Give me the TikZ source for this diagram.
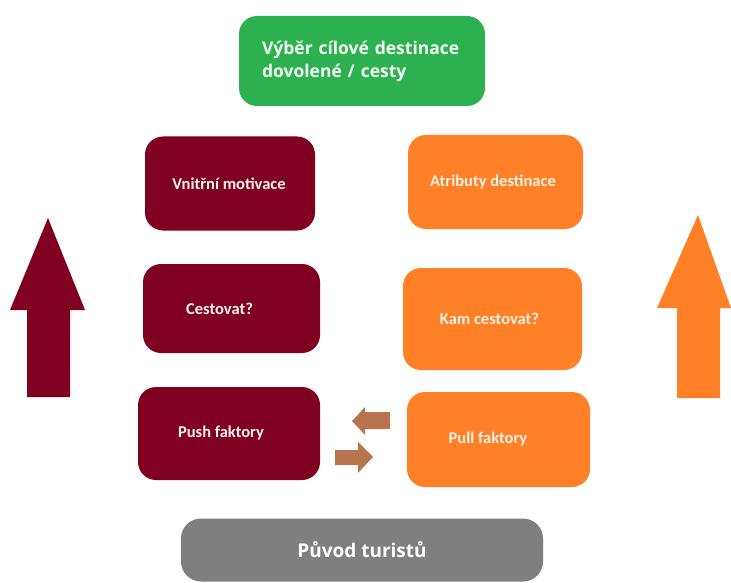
\documentclass[tikz,border=0pt]{standalone}
\usepackage{fontspec}
\setmainfont{Carlito}
\newfontfamily\headfont{Open Sans}
\definecolor{vino}{RGB}{127,0,32}
\definecolor{oranzova}{RGB}{255,128,38}
\definecolor{zelena}{RGB}{44,176,80}
\definecolor{seda}{RGB}{127,127,127}
\definecolor{hneda}{RGB}{184,116,78}
\begin{document}
\begin{tikzpicture}[x=1pt,y=-1pt,
	box/.style={rectangle,rounded corners=18pt,inner sep=0pt,font=\bfseries\fontsize{16.5}{18}\selectfont},
	pushbox/.style={box,fill=vino,text=red!5},
	pullbox/.style={box,fill=oranzova,text=orange!10}]
		\useasboundingbox (0,0) rectangle (731,583);
		% cil
		\node[box,fill=zelena,text=green!5,minimum width=246pt,minimum height=90pt,text width=200pt,align=left,font=\headfont\bfseries\fontsize{17.5}{23}\selectfont] (cil) at (362,61) {V\'yb\v{e}r c\'ilov\'e destinace\\dovolen\'e / cesty};
		
		% push strana
		\node[pushbox,minimum width=170pt,minimum height=94pt] (motivace) at (230,183.5) {Vnit\v{r}n\'i motivace\hspace*{2pt}};
		\node[pushbox,minimum width=177pt,minimum height=89pt] (cestovat) at (231.5,308.5) {Cestovat?\hspace*{24pt}};
		\node[pushbox,minimum width=182pt,minimum height=93pt] (push) at (229,433.5) {Push faktory\hspace*{16pt}};
		
		% pull strana
		\node[pullbox,minimum width=175pt,minimum height=94pt] (atributy) at (495.5,182) {Atributy destinace\hspace*{5pt}};
		\node[pullbox,minimum width=179pt,minimum height=102pt] (kam) at (492.5,319) {Kam cestovat?\hspace*{6pt}};
		\node[pullbox,minimum width=183pt,minimum height=95pt] (pull) at (498.5,439.5) {Pull faktory\hspace*{21pt}};
		
		% puvod
		\node[box,rounded corners=20pt,fill=seda,text=white,minimum width=362pt,minimum height=63pt,font=\headfont\bfseries\fontsize{19}{21}\selectfont] (puvod) at (362,550) {P\r{u}vod turist\r{u}};
		
		% velke sipky
		\fill[vino] (48,218) -- (85,310) -- (70,310) -- (70,397) -- (27,397) -- (27,310) -- (10,310) -- cycle;
		\fill[oranzova] (698,215) -- (731,308) -- (720,308) -- (720,398) -- (677,398) -- (677,308) -- (657,308) -- cycle;
		
		% sipky push / pull
		\fill[hneda] (352,421) -- (365,407) -- (365,412) -- (390,412) -- (390,429) -- (365,429) -- (365,435) -- cycle;
		\fill[hneda] (373,457) -- (358,442) -- (358,450) -- (335,450) -- (335,465) -- (358,465) -- (358,473) -- cycle;
	\end{tikzpicture}
\end{document}
